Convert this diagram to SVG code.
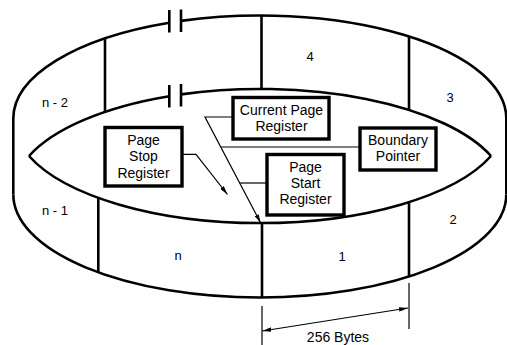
<svg xmlns="http://www.w3.org/2000/svg" width="507" height="345" viewBox="0 0 507 345">
<defs>
<style>
.ring{fill:none;stroke:#000;stroke-width:2.6;stroke-linecap:butt}
.box rect{fill:#fff;stroke:#000;stroke-width:3.4}
.conn{fill:none;stroke:#000;stroke-width:1.2}
text{font-family:"Liberation Sans",Arial,sans-serif;font-size:14px;fill:#000;text-anchor:middle}
.lbl{font-size:13px}
</style>
<marker id="ah" viewBox="0 0 10 5" refX="10" refY="2.5" markerWidth="9" markerHeight="4.5" orient="auto-start-reverse" markerUnits="userSpaceOnUse">
<path d="M0,0 L10,2.5 L0,5 z" fill="#000"/>
</marker>
</defs>
<rect width="507" height="345" fill="#fff"/>
<g id="ring">
<path class="ring" d="M13.3,194.5 L13.3,118.5 A246.5,103 0 0 1 169.3,22.7"/>
<path class="ring" d="M181,20.9 A246.5,103 0 0 1 506.3,118.5 L506.3,194.5"/>
<path class="ring" d="M13.3,194.5 A246.5,103 0 0 0 506.3,194.5"/>
<path class="ring" d="M29,156 A246.5,103 0 0 1 169.3,96.2"/>
<path class="ring" d="M181,94.4 A246.5,103 0 0 1 491,156"/>
<path class="ring" d="M29,156 A246.5,103 0 0 0 491,156"/>
<line class="ring" x1="169.3" y1="10" x2="169.3" y2="32.5"/>
<line class="ring" x1="181" y1="9.5" x2="181" y2="32"/>
<line class="ring" x1="169.3" y1="85" x2="169.3" y2="107.5"/>
<line class="ring" x1="181" y1="84" x2="181" y2="106.5"/>
<line class="ring" x1="261.5" y1="15.5" x2="261.5" y2="89"/>
<line class="ring" x1="105" y1="38.3" x2="105" y2="111.9"/>
<line class="ring" x1="409" y1="36.5" x2="409" y2="110"/>
<line class="ring" x1="98.3" y1="198" x2="98.3" y2="272"/>
<line class="ring" x1="262" y1="223" x2="262" y2="297.5"/>
<line class="ring" x1="409" y1="202" x2="409" y2="276.5"/>
</g>
<g id="labels">
<text class="lbl" x="310" y="61">4</text>
<text class="lbl" x="450" y="102">3</text>
<text class="lbl" x="55" y="107">n - 2</text>
<text class="lbl" x="55" y="215">n - 1</text>
<text class="lbl" x="178" y="260">n</text>
<text class="lbl" x="342" y="261">1</text>
<text class="lbl" x="453" y="224">2</text>
</g>
<g id="connectors">
<polyline class="conn" points="233,117 205,117 260.7,223" marker-end="url(#ah)"/>
<polyline class="conn" points="182,154.3 196,154.3 227.5,194.5" marker-end="url(#ah)"/>
<line class="conn" x1="360" y1="147" x2="221" y2="147"/>
<line class="conn" x1="267" y1="183" x2="240.2" y2="183"/>
<line class="conn" x1="262" y1="306" x2="262" y2="345"/>
<line class="conn" x1="409" y1="283" x2="409" y2="329"/>
<line class="conn" x1="262.3" y1="331" x2="408" y2="308" marker-start="url(#ah)" marker-end="url(#ah)"/>
</g>
<g id="dimension-label">
<text x="338" y="341.5">256 Bytes</text>
</g>
<g id="current-page-register" class="box">
<rect x="233" y="97.5" width="96" height="41.5"/>
<text x="281.5" y="115">Current Page</text>
<text x="281.5" y="131">Register</text>
</g>
<g id="page-stop-register" class="box">
<rect x="105" y="127.5" width="77" height="58.5"/>
<text x="143.5" y="144.5">Page</text>
<text x="143.5" y="161">Stop</text>
<text x="143.5" y="177.5">Register</text>
</g>
<g id="boundary-pointer" class="box">
<rect x="360" y="128" width="76" height="42"/>
<text x="398" y="145">Boundary</text>
<text x="398" y="161">Pointer</text>
</g>
<g id="page-start-register" class="box">
<rect x="267" y="154.5" width="77" height="60.5"/>
<text x="305.5" y="171.5">Page</text>
<text x="305.5" y="187.5">Start</text>
<text x="305.5" y="204">Register</text>
</g>
</svg>
